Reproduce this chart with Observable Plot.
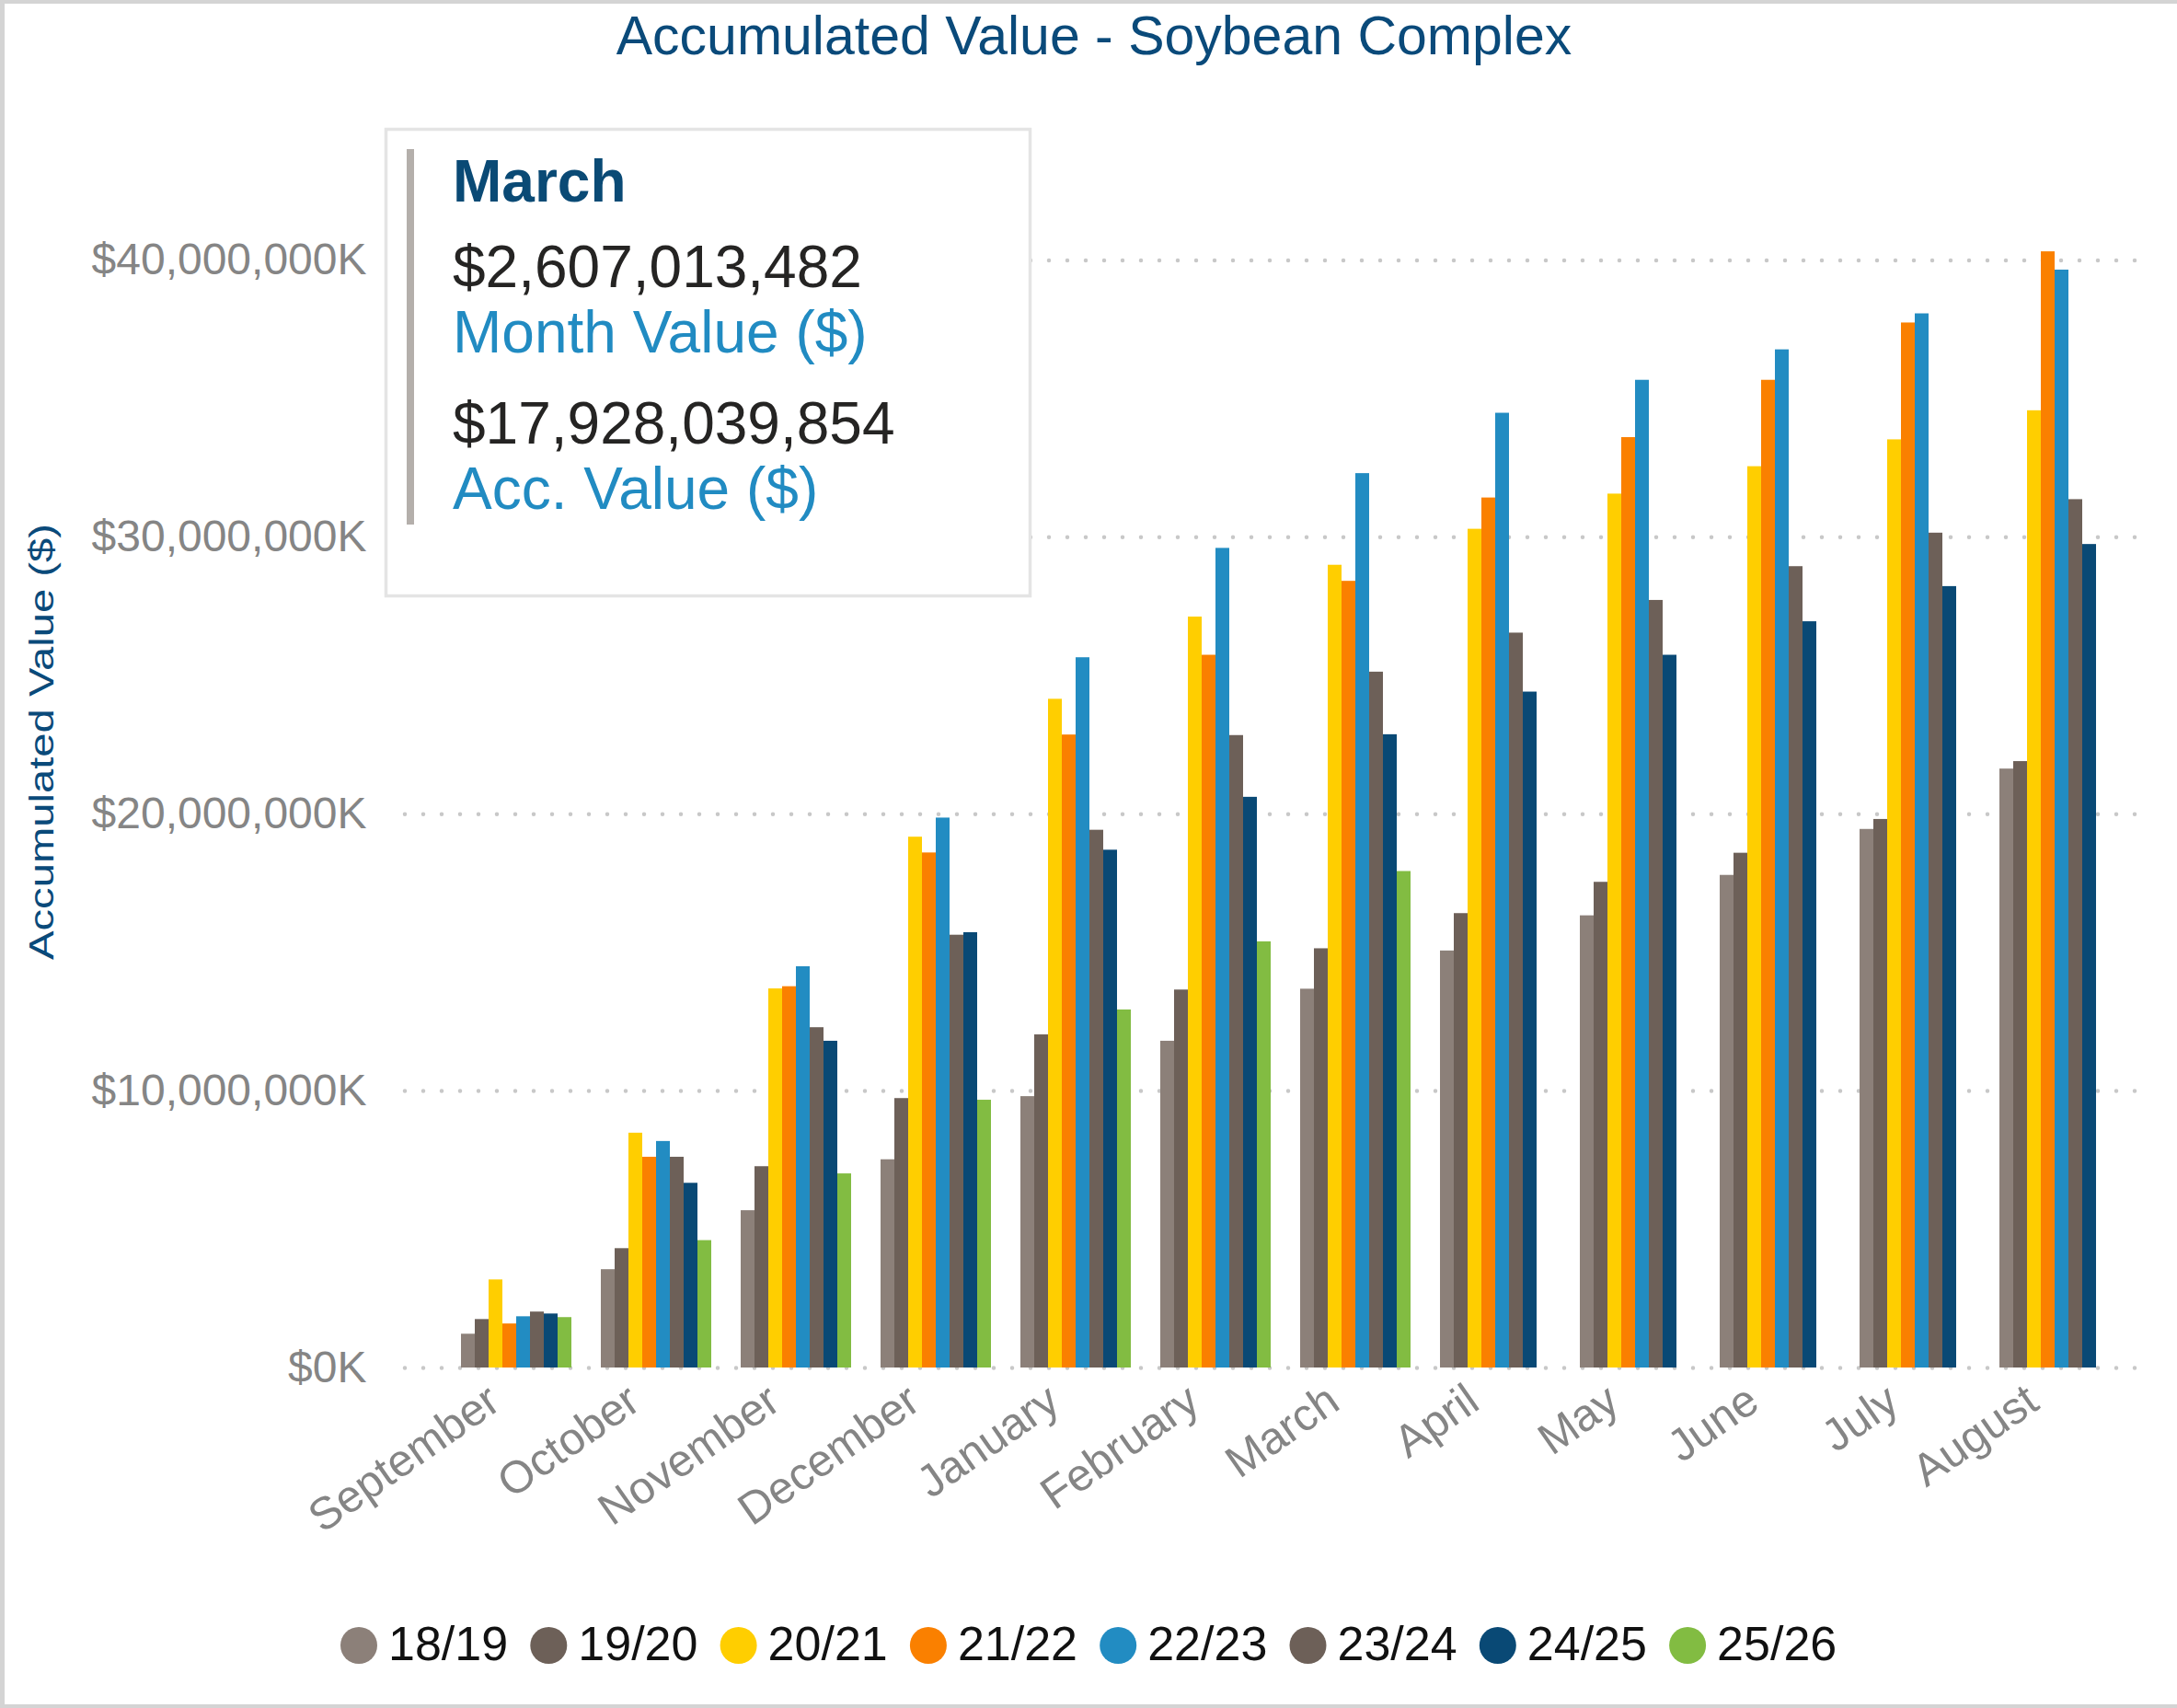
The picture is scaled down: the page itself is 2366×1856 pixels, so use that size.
<!DOCTYPE html>
<html>
<head>
<meta charset="utf-8">
<script src="https://cdn.jsdelivr.net/npm/d3@7"></script>
<script src="https://cdn.jsdelivr.net/npm/@observablehq/plot@0.6"></script>
<style>
  html, body { margin: 0; padding: 0; background: #ffffff; }
  #wrap { position: relative; width: 2366px; height: 1856px; overflow: hidden; background: #ffffff;
          font-family: "Liberation Sans", Arial, sans-serif; }
  #grid, #chart { position: absolute; left: 0; top: 0; }
  #overlay { position: absolute; left: 0; top: 0; }
  #border { position: absolute; left: 0; top: 0; width: 2366px; height: 1856px; box-sizing: border-box;
            border-top: 4px solid #D4D4D4; border-left: 5px solid #D4D4D4; border-bottom: 4px solid #D4D4D4;
            pointer-events: none; }
</style>
</head>
<body>
<div id="wrap">
  <div id="grid"></div>
  <div id="chart"></div>
  <svg id="overlay" width="2366" height="1856" xmlns="http://www.w3.org/2000/svg"></svg>
  <div id="border"></div>
</div>
<script>
// ---------- data ----------
const titleText = "Accumulated Value - Soybean Complex";
const yAxisTitle = "Accumulated Value ($)";
const months = ["September", "October", "November", "December", "January", "February",
                "March", "April", "May", "June", "July", "August"];
const seasons = ["18/19", "19/20", "20/21", "21/22", "22/23", "23/24", "24/25", "25/26"];
const seasonColors = ["#8C8079", "#6D6058", "#FFCE00", "#FA8000", "#228CC2", "#6D6058", "#094975", "#82BC42"];
const yTicks = [0, 10, 20, 30, 40]; // billions of $ (= millions of $K)

// accumulated value, billions of $, per month (Sep..Aug)
const v1819 = [1.22, 3.55, 5.68, 7.52, 9.80, 11.80, 13.68, 15.06, 16.33, 17.79, 19.45, 21.63];
const v1920 = [1.75, 4.31, 7.27, 9.73, 12.03, 13.65, 15.14, 16.41, 17.54, 18.59, 19.81, 21.90];
const v2021 = [3.18, 8.48, 13.69, 19.17, 24.15, 27.12, 28.99, 30.29, 31.56, 32.55, 33.52, 34.57];
const v2122 = [1.59, 7.61, 13.77, 18.60, 22.86, 25.74, 28.41, 31.42, 33.60, 35.67, 37.74, 40.31];
const v2223 = [1.85, 8.18, 14.49, 19.86, 25.65, 29.60, 32.30, 34.48, 35.67, 36.77, 38.07, 39.65];
const v2324 = [2.02, 7.61, 12.29, 15.63, 19.42, 22.84, 25.13, 26.54, 27.72, 28.94, 30.15, 31.36];
const v2425 = [1.95, 6.67, 11.80, 15.72, 18.70, 20.61, 22.87, 24.41, 25.74, 26.95, 28.22, 29.74];
const v2526 = [1.82, 4.60, 7.01, 9.67, 12.93, 15.39, 17.93, null, null, null, null, null];

const tipMonth = "March";
const tipMonthValue = "$2,607,013,482";
const tipMonthLabel = "Month Value ($)";
const tipAccValue = "$17,928,039,854";
const tipAccLabel = "Acc. Value ($)";

// ---------- table ----------
const seriesValues = [v1819, v1920, v2021, v2122, v2223, v2324, v2425, v2526];
const data = [];
seasons.forEach((s, si) => {
  months.forEach((m, mi) => {
    const v = seriesValues[si][mi];
    if (v != null) data.push({month: m, season: s, value: v});
  });
});

const fmtTick = d => "$" + d3.format(",")(Math.round(d * 1e6)) + "K";

// ---------- shared layout ----------
const W = 2366, H = 1856;
const layout = {
  width: W, height: H,
  marginLeft: 440, marginRight: 26, marginTop: 132, marginBottom: 370
};
const yScale = {domain: [0, 45], label: null};

// grid layer (continuous dotted lines across the whole frame)
const grid = Plot.plot({
  ...layout,
  style: {background: "transparent"},
  x: {axis: null},
  y: {...yScale, axis: null},
  marks: [
    Plot.ruleY(yTicks, {stroke: "#C8C8C8", strokeWidth: 4.5, strokeDasharray: "0,20", strokeLinecap: "round"})
  ]
});
document.getElementById("grid").appendChild(grid);

// bars + axes
const chart = Plot.plot({
  ...layout,
  style: {fontFamily: "'Liberation Sans', Arial, sans-serif", color: "#858585", background: "transparent", overflow: "visible"},
  fx: {domain: months, paddingInner: 0.211, paddingOuter: 0.355, align: 0.565, label: null},
  x: {domain: seasons, padding: 0, axis: null},
  y: yScale,
  color: {domain: seasons, range: seasonColors},
  marks: [
    Plot.barY(data, {fx: "month", x: "season", y: "value", fill: "season"}),
    Plot.axisY(yTicks, {anchor: "left", tickSize: 0, tickPadding: 103, tickFormat: fmtTick, fontSize: 48, label: null}),
    Plot.axisFx({anchor: "bottom", tickRotate: -35, tickSize: 0, tickPadding: 30, dx: -24, fontSize: 49, label: null})
  ]
});
document.getElementById("chart").appendChild(chart);

// ---------- overlay: title, tooltip, axis title, legend ----------
const ov = d3.select("#overlay");
const font = "'Liberation Sans', Arial, sans-serif";

ov.append("text")
  .attr("x", 1189).attr("y", 59)
  .attr("text-anchor", "middle")
  .attr("font-family", font).attr("font-size", 59)
  .attr("fill", "#0A4A7A")
  .text(titleText);

ov.append("text")
  .attr("transform", "translate(58,806) rotate(-90)")
  .attr("text-anchor", "middle")
  .attr("font-family", font).attr("font-size", 37)
  .attr("textLength", 474).attr("lengthAdjust", "spacingAndGlyphs")
  .attr("fill", "#0A4A7A")
  .text(yAxisTitle);

// tooltip
const tip = ov.append("g");
tip.append("rect").attr("x", 419.5).attr("y", 140.5).attr("width", 700).attr("height", 507)
  .attr("fill", "#ffffff").attr("stroke", "#E4E4E4").attr("stroke-width", 3.5);
tip.append("rect").attr("x", 442).attr("y", 162).attr("width", 8).attr("height", 408).attr("fill", "#B4AFAB");
const tipLines = [
  {t: tipMonth, y: 219, c: "#0A4A75", w: "bold", s: 64},
  {t: tipMonthValue, y: 312, c: "#252423", w: "normal", s: 64},
  {t: tipMonthLabel, y: 383, c: "#218BC2", w: "normal", s: 64},
  {t: tipAccValue, y: 482, c: "#252423", w: "normal", s: 64},
  {t: tipAccLabel, y: 553, c: "#218BC2", w: "normal", s: 64}
];
tipLines.forEach(l => {
  tip.append("text").attr("x", 492).attr("y", l.y)
    .attr("font-family", font).attr("font-size", l.s).attr("font-weight", l.w)
    .attr("fill", l.c).text(l.t);
});

// legend
const lg = ov.append("g");
const legStart = 390, legStep = 206.3, legY = 1788;
seasons.forEach((s, i) => {
  const cx = legStart + i * legStep;
  lg.append("circle").attr("cx", cx).attr("cy", legY).attr("r", 20).attr("fill", seasonColors[i]);
  lg.append("text").attr("x", cx + 32).attr("y", 1804)
    .attr("font-family", font).attr("font-size", 52).attr("fill", "#111111").text(s);
});
</script>
</body>
</html>
